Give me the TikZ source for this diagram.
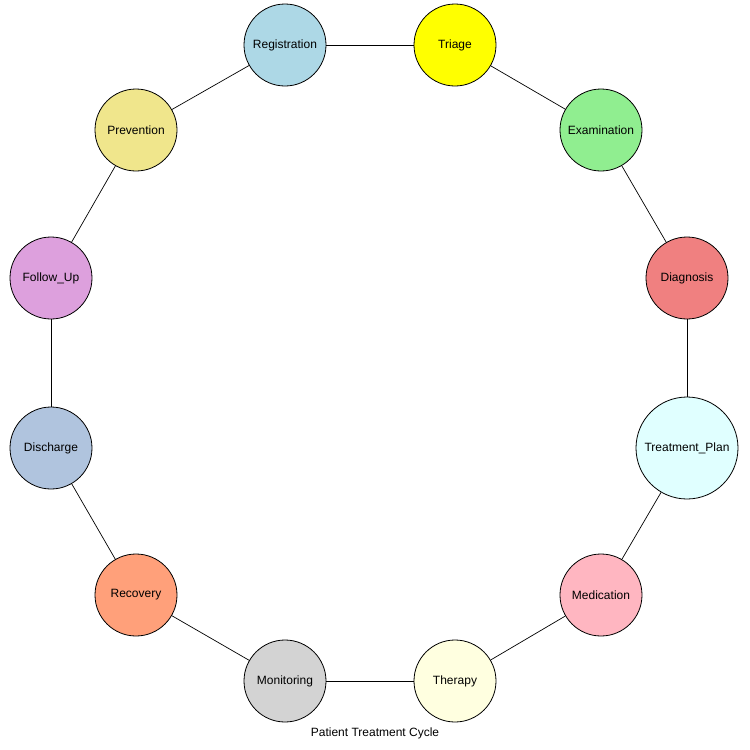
\documentclass[tikz,border=0pt]{standalone}
\usepackage{fontspec}
\setmainfont{Liberation Sans}
\begin{document}
\begin{tikzpicture}[x=1pt,y=-1pt,
  stage/.style={circle,draw=black,line width=0.8pt,minimum size=82pt,inner sep=0pt,font=\fontsize{12}{14}\selectfont},
  link/.style={draw=black,line width=0.7pt}]
\useasboundingbox (0,0) rectangle (750,750);
\definecolor{cReg}{HTML}{ADD8E6}\definecolor{cTri}{HTML}{FFFF00}
\definecolor{cExa}{HTML}{90EE90}\definecolor{cDia}{HTML}{F08080}
\definecolor{cTrp}{HTML}{E0FFFF}\definecolor{cMed}{HTML}{FFB6C1}
\definecolor{cThe}{HTML}{FFFFE0}\definecolor{cMon}{HTML}{D3D3D3}
\definecolor{cRec}{HTML}{FFA07A}\definecolor{cDis}{HTML}{B0C4DE}
\definecolor{cFol}{HTML}{DDA0DD}\definecolor{cPre}{HTML}{F0E68C}
\node[stage,fill=cReg] (reg) at (285,45) {Registration};
\node[stage,fill=cTri] (tri) at (455,45) {Triage};
\node[stage,fill=cExa] (exa) at (601,130) {Examination};
\node[stage,fill=cDia] (dia) at (687,278) {Diagnosis};
\node[stage,fill=cTrp,minimum size=102pt] (trp) at (687,448) {Treatment\_Plan};
\node[stage,fill=cMed] (med) at (601,595) {Medication};
\node[stage,fill=cThe] (the) at (455,681) {Therapy};
\node[stage,fill=cMon] (mon) at (285,681) {Monitoring};
\node[stage,fill=cRec] (rec) at (136,595) {Recovery};
\node[stage,fill=cDis] (dis) at (51,448) {Discharge};
\node[stage,fill=cFol] (fol) at (51,278) {Follow\_Up};
\node[stage,fill=cPre] (pre) at (136,130) {Prevention};
\foreach \a/\b in {reg/tri,tri/exa,exa/dia,dia/trp,trp/med,med/the,the/mon,mon/rec,rec/dis,dis/fol,fol/pre,pre/reg}
  \draw[link] (\a) -- (\b);
\node[font=\fontsize{12}{14}\selectfont] (title) at (375,733) {Patient Treatment Cycle};
\end{tikzpicture}
\end{document}
